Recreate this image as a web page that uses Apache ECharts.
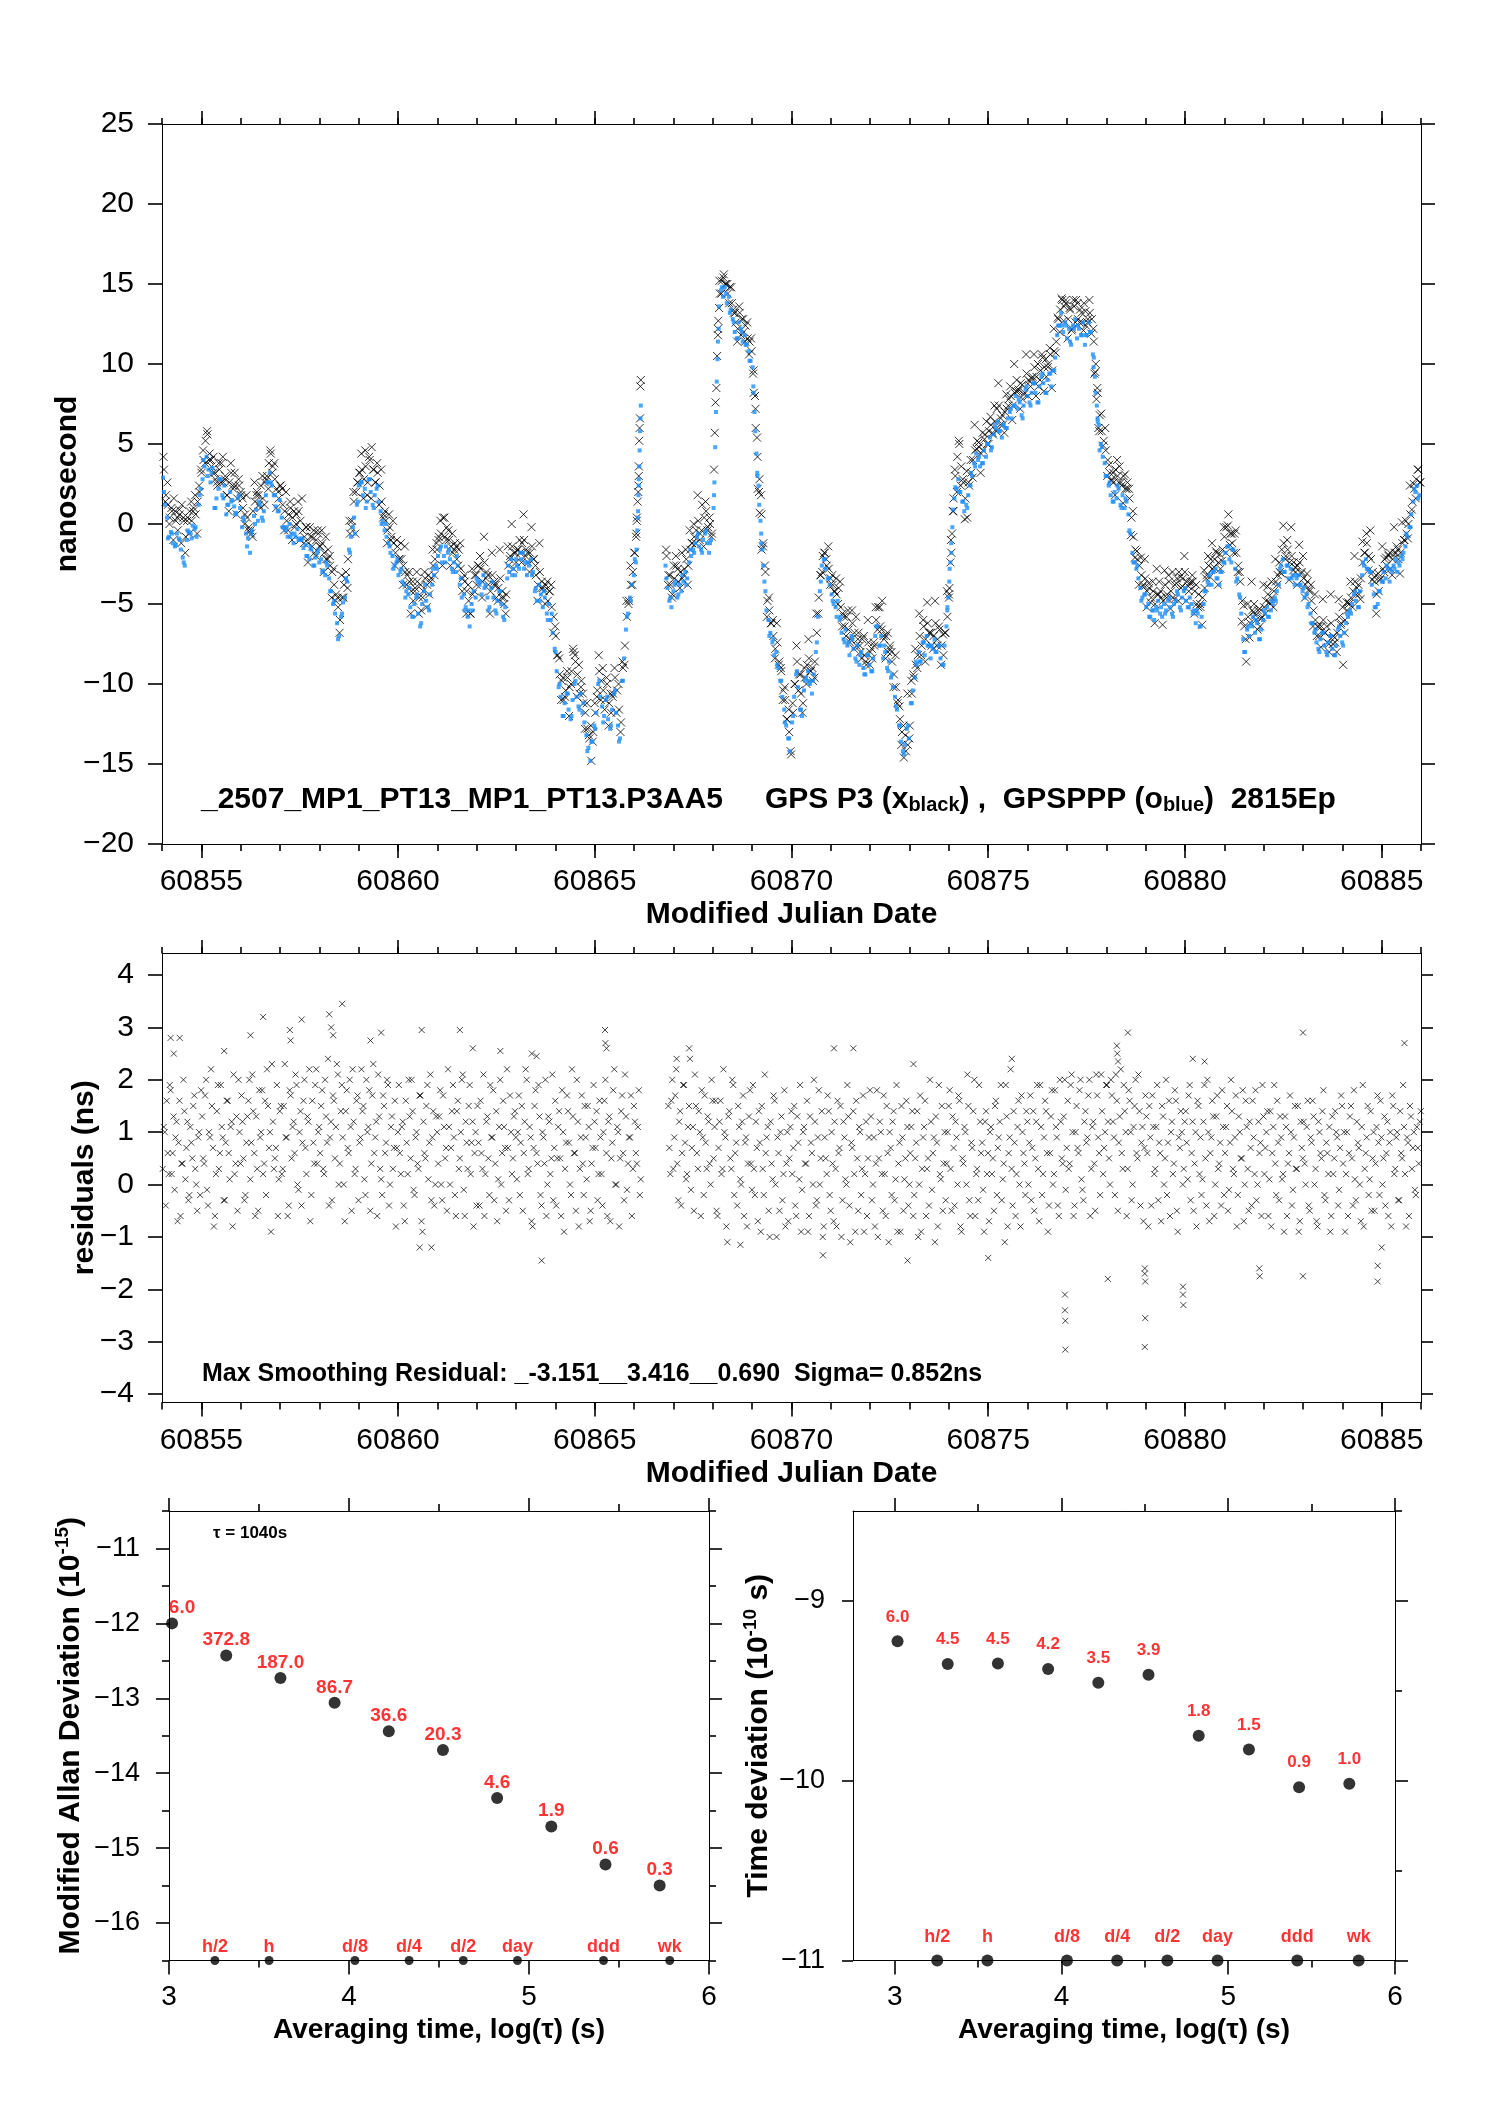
<!DOCTYPE html>
<html><head><meta charset="utf-8">
<script src="https://cdn.jsdelivr.net/npm/echarts@6/dist/echarts.min.js"></script>
<style>html,body{margin:0;padding:0;background:#fff}#c{width:1488px;height:2105px}</style>
</head><body><div id="c"></div>
<script>
// ---------------- DATA ----------------
const mjdMin = 60854, mjdMax = 60886;
const mjdMajorTicks = [60855,60860,60865,60870,60875,60880,60885];
const mjdMinorTicks = [60854,60855,60856,60857,60858,60859,60860,60861,60862,60863,60864,60865,60866,60867,60868,60869,60870,60871,60872,60873,60874,60875,60876,60877,60878,60879,60880,60881,60882,60883,60884,60885,60886];
const nsTicks = [-20,-15,-10,-5,0,5,10,15,20,25];
const resTicks = [-4,-3,-2,-1,0,1,2,3,4];

// regular epochs: start MJD and spacing (days)
const epochStep = 0.050286;
const blueStartMjd = 60854.025, blue2StartMjd = 60854.05, blue2Step = 0.100572;
const blackStartMjd = 60854.05, black2StartMjd = 60854.0375;

// GPSPPP (blue) time differences, ns (one row per day)
const blueNs = [
2.9,1.2,0.4,-0.8,-0.5,-1.2,-1.4,-0.6,-0.9,-1.6,-2.1,-2.6,-1.0,-0.5,-0.6,-0.1,-0.3,-0.8,1.2,2.2,
2.8,3.6,4.2,3.4,2.6,3.5,1.0,1.6,2.2,2.8,1.8,2.4,0.6,1.2,2.0,1.5,1.1,0.7,1.6,1.0,
-0.2,0.2,-0.6,-0.9,-1.8,-0.4,0.5,0.9,0.2,1.2,0.4,0.8,1.8,2.6,3.2,2.4,1.8,1.1,0.8,1.5,
0.4,-0.2,-0.4,-0.8,0.0,-0.6,-1.2,-0.8,-0.3,-0.9,-1.0,-1.5,-1.3,-2.0,-2.2,-1.6,-2.6,-2.1,-1.8,-2.4,
-2.2,-2.9,-3.2,-2.6,-3.4,-4.2,-5.0,-5.6,-6.2,-7.0,-5.8,-4.9,-4.6,-3.6,-1.6,-0.8,-0.2,-0.6,1.2,2.4,
2.6,1.8,2.2,1.4,2.8,2.0,1.2,1.8,2.2,1.4,0.8,0.2,-0.4,-0.8,-1.2,-1.8,-2.0,-2.6,-2.4,-3.2,
-3.0,-3.6,-3.8,-4.2,-4.4,-5.2,-5.8,-5.0,-4.6,-5.6,-6.4,-5.0,-4.2,-4.8,-5.2,-4.4,-3.8,-3.2,-2.6,-2.0,
-1.6,-2.4,-2.0,-1.4,-1.8,-2.2,-2.8,-2.4,-3.0,-2.6,-3.8,-4.6,-4.4,-5.2,-5.8,-6.4,-5.0,-4.2,-4.6,-3.6,
-3.8,-4.4,-3.2,-3.8,-4.6,-5.2,-4.0,-4.6,-5.4,-4.8,-4.2,-5.0,-5.8,-5.2,-3.4,-3.0,-2.2,-2.8,-3.2,-2.6,
-2.8,-2.2,-1.8,-2.4,-3.2,-2.6,-2.2,-3.0,-4.2,-4.8,-3.8,-4.4,-5.2,-4.6,-5.6,-5.0,-6.0,-6.8,-7.8,-9.2,
-10.2,-10.8,-12.0,-11.2,-10.6,-11.6,-12.2,-11.0,-10.0,-10.8,-11.4,-10.6,-11.8,-12.4,-13.2,-14.0,-14.8,-13.6,-12.6,-11.8,
-10.0,-10.8,-11.4,-12.0,-11.0,-12.2,-12.8,-11.6,-10.6,-11.8,-12.6,-13.4,-9.8,-8.4,-6.6,-5.6,-4.6,-3.8,-3.2,-2.4,
0.4,null,null,null,null,null,null,null,null,null,null,null,null,null,-2.6,-4.0,-4.8,-5.2,-4.2,-3.6,
-4.6,-3.8,-4.2,-3.6,-3.0,-3.4,-2.4,-2.0,-1.6,-1.2,-0.8,-1.4,-1.6,-1.0,-0.6,-1.2,-1.8,-1.0,null,null,
null,13.6,14.6,14.2,14.8,13.8,14.2,13.4,12.8,12.0,11.6,12.6,12.2,11.4,11.8,11.2,10.8,10.2,9.8,7.0,
4.4,2.4,0.2,-1.6,-3.6,-5.4,-6.0,-6.8,-7.4,-8.2,-8.0,-9.0,-9.8,-10.8,-11.6,-12.6,-13.4,-14.2,-12.4,-10.8,
-9.4,-10.2,-11.6,-12.0,-10.4,-9.6,-9.2,-10.0,-10.6,-9.4,-8.0,-5.8,-4.2,-2.6,-2.2,-2.8,-3.4,-3.8,-4.4,-5.0,
-5.2,-4.8,-6.0,-6.8,-7.2,-6.6,-7.6,-8.2,-7.0,-7.8,-8.4,-7.6,-8.8,-8.0,-9.0,-9.4,-8.2,-8.8,-9.2,-8.4,
-7.0,-6.4,-7.6,-7.0,-8.4,-8.0,-9.0,-8.6,-9.6,-10.2,-10.8,-11.6,-12.6,-13.6,-14.2,-13.8,-12.8,-13.4,-11.2,-10.4,
-9.6,-8.8,-8.0,-8.6,-7.4,-8.2,-7.0,-7.6,-8.4,-7.8,-7.2,-8.0,-7.6,-8.4,-8.8,-7.6,-6.4,-4.6,-2.4,-0.2,
1.6,2.2,2.8,2.0,1.4,0.8,1.2,1.8,2.4,3.0,3.8,4.4,4.0,3.6,3.8,4.6,4.2,5.0,5.4,4.8,
5.6,6.0,6.4,5.8,5.4,6.2,6.0,6.6,7.0,6.6,7.4,8.0,7.2,7.6,6.8,7.4,8.4,8.0,7.6,8.2,
8.8,8.2,7.6,8.6,9.2,8.8,8.2,9.0,9.4,8.6,9.6,10.4,11.8,12.4,13.2,12.0,12.6,11.6,12.2,11.2,
12.4,12.8,11.6,12.2,11.8,12.6,11.2,11.8,12.6,12.0,10.6,9.2,7.4,6.2,5.0,4.2,3.8,3.0,2.4,1.8,
1.4,2.0,1.6,2.2,1.2,1.8,1.0,1.4,0.6,-0.6,-1.8,-2.4,-2.8,-3.4,-4.0,-4.6,-4.4,-5.2,-5.0,-5.8,
-5.4,-6.0,-5.2,-4.8,-5.6,-5.8,-5.0,-5.4,-4.8,-5.2,-5.6,-5.0,-4.8,-4.4,-5.2,-4.6,-4.2,-4.8,-5.2,-4.6,
-5.0,-5.4,-6.2,-5.6,-6.4,-5.8,-5.0,-4.2,-3.6,-3.2,-3.8,-3.0,-2.8,-3.4,-3.8,-3.0,-2.4,-1.8,-1.4,-2.2,
-2.4,-1.6,-2.8,-3.4,-4.4,-5.6,-7.2,-8.0,-6.6,-7.0,-6.2,-5.8,-6.8,-6.2,-7.2,-6.6,-6.0,-5.6,-5.2,-5.8,
-5.4,-5.0,-4.6,-4.2,-3.8,-2.6,-2.2,-3.0,-2.6,-3.4,-2.8,-3.2,-3.8,-3.4,-3.2,-3.8,-4.2,-4.6,-4.4,-5.0,
-5.6,-6.2,-6.8,-7.4,-7.8,-7.2,-6.8,-7.6,-8.0,-7.4,-7.0,-7.8,-8.2,-7.6,-6.6,-7.0,-7.4,-6.8,-6.2,-5.8,
-5.4,-5.0,-4.4,-4.8,-5.2,-4.2,-3.2,-2.6,-2.2,-2.8,-3.0,-3.8,-4.4,-5.2,-5.0,-4.2,-3.6,-3.0,-3.4,-2.8,
-3.6,-3.0,-2.6,-2.2,-3.0,-2.6,-2.0,-1.8,-1.4,-0.8,-0.2,0.6,1.4,2.0,2.4,1.8
];
// further GPSPPP epochs (ten per day)
const blueNs2 = [
2.0,-0.9,-0.6,-1.3,-1.0,-2.4,-0.4,-0.9,-0.2,1.8,
4.0,3.0,3.2,1.0,2.8,1.6,1.2,1.4,0.6,1.8,
0.4,-1.4,-0.6,0.0,1.4,0.2,2.6,2.6,1.8,0.8,
-0.2,-0.2,-0.8,-0.6,-1.0,-0.9,-2.0,-1.4,-2.6,-1.6,
-3.0,-2.4,-4.2,-4.8,-7.2,-5.6,-3.4,-1.8,0.4,1.4,
2.6,1.0,2.8,1.0,2.4,0.0,0.0,-1.4,-2.8,-2.2,
-2.8,-4.6,-4.0,-5.8,-4.4,-6.2,-3.8,-5.4,-2.8,-2.8,
-1.4,-2.4,-1.6,-3.0,-2.0,-3.4,-5.4,-5.4,-5.4,-3.4,
-3.6,-4.0,-5.4,-3.6,-5.6,-4.2,-6.0,-2.6,-3.2,-2.2,
-1.8,-2.8,-2.4,-3.2,-4.0,-4.8,-4.2,-6.0,-5.6,-8.0,
-10.0,-12.0,-10.6,-12.0,-9.8,-11.6,-11.2,-14.2,-13.6,-12.8,
-9.8,-12.4,-10.8,-12.6,-10.4,-13.6,-9.8,-5.8,-4.8,-2.2,
2.4,null,null,null,null,null,null,-3.4,-4.6,-3.8,
-4.4,-3.2,-3.8,-1.6,-1.8,-0.6,-1.8,-0.4,-1.2,1.8,
11.4,14.8,14.4,13.2,12.6,11.6,12.0,11.2,10.2,8.2,
3.0,-1.2,-4.2,-7.0,-7.2,-8.8,-9.8,-12.4,-13.4,-12.0,
-9.2,-11.6,-9.8,-9.8,-9.8,-7.4,-3.6,-2.2,-3.4,-4.8,
-5.8,-5.8,-7.4,-7.4,-7.2,-8.6,-8.2,-9.4,-8.2,-9.2,
-6.4,-7.6,-7.6,-9.2,-9.4,-11.4,-12.6,-14.4,-12.6,-11.2,
-8.6,-8.6,-7.4,-7.6,-7.6,-8.0,-7.6,-8.8,-5.2,-1.8,
2.3,2.0,1.4,1.0,3.2,3.6,4.2,3.8,5.0,4.6,
6.2,5.8,6.2,6.0,7.2,7.4,7.8,6.6,8.6,7.4,
8.8,7.6,9.4,8.2,9.4,9.6,12.4,12.4,12.4,11.4,
12.2,12.4,11.8,11.8,12.0,10.4,6.4,4.8,3.0,2.6,
1.4,2.4,1.0,1.6,-0.4,-2.4,-2.6,-4.8,-4.4,-5.8,
-5.4,-5.4,-5.2,-5.6,-4.6,-5.8,-4.2,-5.4,-4.0,-5.2,
-5.6,-5.4,-6.4,-4.2,-3.8,-3.0,-3.4,-3.0,-2.4,-1.4,
-1.6,-3.6,-4.6,-8.0,-6.4,-6.4,-6.0,-7.2,-5.4,-5.8,
-4.8,-4.8,-2.8,-3.0,-2.6,-3.4,-3.2,-3.8,-4.0,-5.2,
-6.2,-6.6,-8.0,-6.8,-8.2,-7.0,-8.2,-6.4,-7.6,-5.6,
-5.6,-4.2,-5.2,-2.4,-2.8,-3.0,-5.2,-4.2,-3.6,-2.6,
-2.8,-2.8,-2.4,-2.2,-0.6,-0.2,2.2,1.6
];
// GPSPPP points on the fast ramps [MJD, ns]
const blueRampPts = [
[60866.06,-1.6],[60866.08,-0.4],[60866.10,0.8],[60866.11,1.8],[60866.12,2.8],[60866.13,3.6],[60866.14,4.6],[60866.15,5.8],[60866.16,6.6],[60866.17,7.4],
[60868.02,1.0],[60868.04,2.6],[60868.06,4.8],[60868.08,7.0],[60868.10,8.9],[60868.12,10.3],[60868.15,12.2],
[60869.03,8.6],[60869.08,5.8],[60869.13,3.2],[60869.18,1.2],[60869.23,-0.6],[60869.28,-2.6],
[60873.96,-5.4],[60874.01,-3.6],[60874.02,-2.8],[60874.06,-1.2],[60874.11,0.9],
[60877.68,9.8],[60877.73,8.2],[60877.78,6.6],[60877.83,4.6]
];
// GPS P3 (black) time differences, ns (one row per day)
const blackNs = [
3.4,1.8,1.2,0.4,0.8,1.6,0.2,-0.4,0.6,1.2,0.2,-0.8,0.4,0.8,0.2,1.0,0.6,1.4,2.0,3.2,
4.0,5.2,5.6,4.4,3.6,4.2,2.8,2.4,3.4,3.8,2.6,3.0,1.8,2.6,3.2,2.2,2.4,1.6,2.4,1.8,
1.0,0.6,0.4,-0.2,-0.6,0.8,1.4,2.0,1.2,2.4,1.6,2.6,3.0,3.8,4.4,3.6,2.8,2.2,1.6,2.4,
1.2,0.8,0.2,0.6,1.0,0.4,-0.2,0.6,0.8,0.2,-0.4,-0.8,-0.2,-1.2,-0.8,-1.4,-1.8,-1.0,-0.6,-1.4,
-1.2,-1.8,-2.2,-1.6,-2.6,-3.0,-3.8,-4.4,-5.2,-6.0,-4.6,-3.8,-3.0,-2.2,-0.6,0.2,1.4,2.0,2.6,3.2,
3.4,2.8,3.6,2.6,4.0,4.8,3.4,2.6,3.2,2.4,1.4,0.6,0.2,-0.4,-0.2,-0.8,-1.2,-1.8,-1.4,-2.2,
-2.2,-2.6,-3.0,-3.2,-3.6,-4.2,-4.8,-4.0,-3.6,-4.6,-5.4,-4.2,-3.4,-3.8,-4.4,-3.4,-2.6,-2.2,-1.6,-0.8,
-0.6,0.4,-0.8,-0.2,-1.0,-1.4,-1.8,-1.2,-2.2,-1.6,-2.8,-3.4,-3.6,-4.2,-4.8,-5.6,-4.4,-3.2,-3.8,-2.6,
-2.8,-3.6,-2.4,-3.0,-3.8,-4.2,-3.2,-3.6,-4.6,-4.0,-3.4,-4.2,-5.0,-4.4,-2.6,-2.0,-1.4,-1.8,-2.4,-1.6,
-1.8,-1.2,-1.0,-1.6,-2.4,-1.8,-1.4,-2.2,-3.2,-3.8,-3.0,-3.6,-4.2,-3.8,-4.8,-4.2,-5.2,-5.8,-7.0,-8.2,
-9.4,-9.8,-11.0,-10.4,-9.6,-10.2,-9.2,-8.0,-8.6,-9.4,-10.6,-9.8,-11.2,-11.8,-12.8,-13.4,-14.8,-13.0,-11.8,-10.4,
-9.2,-9.8,-10.4,-11.0,-10.0,-11.2,-11.8,-10.6,-9.6,-10.4,-11.6,-12.4,-9.0,-7.6,-5.8,-4.8,-3.8,-3.0,-1.8,0.2,
3.0,null,null,null,null,null,null,null,null,null,null,null,null,null,-2.0,-3.2,-3.8,-4.4,-3.4,-2.6,
-3.6,-3.0,-3.4,-2.8,-2.2,-2.6,-1.6,-1.2,-0.8,-0.4,0.2,-0.6,1.2,0.4,0.8,-0.2,0.0,-0.6,null,null,
12.2,14.4,15.2,15.6,15.0,14.4,14.8,13.8,13.2,12.6,12.2,13.2,12.8,12.0,12.4,11.6,11.4,10.8,9.6,7.2,
4.2,2.8,0.6,-1.2,-3.0,-4.8,-5.4,-6.2,-7.0,-7.8,-7.4,-8.6,-9.2,-10.4,-11.0,-12.2,-13.0,-14.4,-11.8,-10.0,
-8.6,-9.4,-10.6,-11.2,-9.6,-8.8,-8.4,-9.2,-9.8,-8.6,-6.8,-4.6,-3.2,-2.0,-1.8,-2.6,-2.8,-3.4,-3.8,-4.2,
-4.4,-4.0,-5.2,-5.6,-6.4,-5.8,-6.6,-7.2,-6.2,-6.8,-7.6,-6.8,-8.0,-7.2,-8.2,-8.8,-7.4,-8.0,-8.4,-7.6,
-6.0,-5.2,-6.4,-4.8,-7.2,-7.0,-8.0,-7.6,-8.6,-9.4,-10.2,-11.0,-12.2,-13.0,-14.6,-14.2,-13.8,-12.6,-10.6,-9.6,
-8.8,-8.2,-7.0,-7.6,-6.4,-7.2,-6.2,-6.8,-7.6,-7.0,-6.2,-7.2,-6.6,-7.6,-8.2,-6.8,-5.8,-4.0,-1.8,0.8,
3.0,4.2,5.0,3.6,2.6,1.6,0.4,2.4,3.2,4.0,4.6,5.2,4.8,4.4,4.6,5.6,5.0,5.8,6.2,5.6,
6.4,7.2,7.4,6.6,6.2,7.0,7.2,7.8,8.0,7.4,8.2,9.0,8.4,8.8,7.8,8.2,9.4,9.0,8.6,9.2,
9.8,9.2,8.6,9.6,10.4,9.8,9.2,10.0,10.6,9.6,10.8,11.4,12.8,13.4,14.0,13.6,13.8,12.8,13.4,12.2,
13.6,14.0,12.8,13.4,12.6,13.8,12.4,12.8,13.2,12.8,11.4,10.0,8.2,6.8,5.8,5.2,4.6,4.0,3.2,2.8,
2.6,3.4,3.0,3.6,2.4,3.0,2.2,2.6,1.6,0.4,-0.8,-1.6,-2.2,-2.6,-3.2,-3.8,-3.4,-4.2,-4.0,-4.6,
-4.2,-5.0,-4.4,-3.6,-4.6,-4.8,-3.8,-4.4,-3.6,-4.2,-4.6,-3.8,-3.4,-3.0,-4.0,-3.4,-3.0,-3.6,-4.2,-3.6,
-3.6,-4.2,-5.0,-4.4,-5.2,-4.6,-4.0,-3.2,-2.6,-2.2,-2.8,-2.2,-1.8,-2.4,-2.8,-1.6,-0.8,-0.2,0.6,-0.6,
-1.2,-0.6,-1.8,-2.6,-3.6,-4.8,-6.4,-8.6,-5.8,-6.2,-5.4,-5.0,-6.0,-5.4,-6.4,-5.8,-5.2,-4.8,-4.4,-5.0,
-4.6,-4.2,-3.6,-3.2,-3.0,-1.6,-1.2,-2.0,-1.6,-2.4,-2.0,-2.4,-3.0,-2.6,-2.4,-3.0,-3.4,-3.8,-3.6,-4.2,
-4.8,-5.4,-6.0,-6.4,-7.0,-6.4,-6.0,-6.8,-7.4,-8.0,-6.2,-7.0,-7.4,-6.8,-5.8,-6.2,-8.8,-6.0,-5.4,-5.0,
-4.6,-4.2,-3.6,-4.0,-4.4,-3.4,-2.4,-1.8,-1.2,-2.0,-2.2,-3.0,-3.6,-4.4,-4.2,-3.4,-2.8,-2.2,-2.6,-2.0,
-2.8,-2.2,-1.8,-1.4,-2.2,-1.8,-1.2,-1.0,-0.6,0.0,0.6,1.4,2.2,2.8,3.4,2.6
];
// further GPS P3 epochs (twenty per day)
const blackNs2 = [
4.2,1.4,2.6,0.0,1.0,-1.0,0.8,0.4,0.9,-1.2,0.4,-1.8,0.2,-0.6,1.4,0.8,1.8,-0.6,2.4,3.4,
4.6,3.8,5.8,4.0,4.0,3.2,3.2,2.6,3.8,2.6,4.2,2.8,1.8,0.8,3.8,2.4,3.2,0.6,2.8,2.0,
1.6,0.0,1.8,-0.4,-0.4,-0.8,2.6,1.8,1.8,1.0,3.0,1.2,2.8,2.2,4.6,3.2,3.8,1.0,2.0,2.4,
2.2,-0.4,2.0,-0.4,1.4,-1.0,0.8,0.0,1.4,-1.0,1.6,-1.2,-0.2,-2.4,-0.2,-0.8,-0.4,-2.0,-0.4,-1.4,
-0.4,-3.0,-0.8,-2.2,-2.0,-4.6,-2.8,-4.8,-4.6,-6.8,-3.2,-4.6,-3.4,-4.0,0.2,-0.2,2.0,-0.6,2.6,3.2,
4.4,1.6,4.6,1.8,4.2,1.6,3.4,2.6,3.8,1.2,3.4,0.4,0.8,-1.2,0.6,-1.0,0.2,-2.6,-1.0,-2.2,
-1.2,-3.8,-1.4,-3.8,-3.0,-5.6,-3.6,-4.2,-3.0,-5.6,-3.8,-4.6,-3.0,-5.2,-3.2,-3.6,-1.6,-3.2,-1.2,-1.0,
0.2,-2.6,0.4,-1.0,-0.4,-2.6,-0.6,-1.6,-1.4,-2.6,-1.2,-4.2,-3.2,-5.6,-3.8,-5.6,-2.8,-4.2,-3.2,-2.6,
-2.0,-4.6,-0.8,-3.4,-3.2,-5.6,-1.8,-3.8,-3.8,-4.8,-1.6,-4.6,-4.6,-5.6,-1.4,-2.2,0.0,-2.8,-1.8,-1.6,
-1.0,-2.4,0.6,-2.0,-1.8,-3.0,-0.2,-2.2,-2.6,-4.8,-1.2,-4.0,-4.0,-5.0,-3.6,-4.2,-3.8,-6.8,-6.4,-8.2,
-8.4,-11.0,-9.6,-10.8,-9.2,-12.0,-10.0,-7.8,-8.2,-10.8,-8.8,-10.2,-10.6,-12.8,-11.2,-13.2,-12.6,-13.6,-11.2,-10.8,
-8.2,-11.0,-9.0,-11.6,-9.6,-12.6,-10.6,-10.8,-9.0,-11.8,-10.0,-13.0,-8.6,-8.8,-4.8,-5.0,-2.6,-3.8,-1.8,-0.6,
2.0,null,null,null,null,null,null,null,null,null,null,null,null,null,-1.6,-3.8,-3.2,-4.6,-2.6,-2.0,
-2.8,-4.0,-1.8,-3.2,-1.6,-3.8,-0.4,-1.2,0.0,-1.2,1.8,-1.0,-0.4,-1.4,1.4,-0.4,0.4,-0.8,null,null,
null,15.2,14.4,15.4,15.0,15.0,13.8,14.8,13.4,13.2,11.4,13.6,11.8,12.8,11.4,12.6,10.6,11.6,9.4,8.0,
5.4,2.0,1.8,-1.4,-2.6,-5.8,-4.6,-6.2,-6.0,-8.4,-6.2,-8.8,-9.0,-11.0,-10.2,-12.2,-11.6,-14.2,-11.2,-10.0,
-7.6,-10.4,-9.4,-11.8,-9.0,-10.0,-7.2,-9.2,-9.0,-9.6,-5.6,-5.6,-3.2,-3.0,-1.8,-2.2,-1.4,-3.8,-3.2,-4.2,
-3.4,-5.0,-3.6,-6.4,-5.8,-7.0,-5.4,-7.4,-5.4,-7.8,-5.8,-7.2,-7.6,-8.4,-7.0,-8.6,-6.0,-8.8,-7.8,-7.4,
-5.2,-6.6,-5.2,-6.6,-7.0,-8.4,-6.8,-7.8,-8.0,-10.2,-8.2,-11.2,-11.4,-13.8,-12.6,-13.2,-10.6,-13.4,-9.8,-9.4,
-7.8,-9.0,-5.6,-8.2,-6.0,-8.6,-4.9,-6.8,-6.8,-7.8,-4.8,-7.6,-6.4,-8.8,-6.9,-6.8,-4.2,-4.6,-1.0,0.8,
3.4,2.0,5.2,2.4,2.8,0.3,3.3,2.6,4.0,2.9,6.2,4.7,5.1,3.2,5.7,5.3,6.4,5.0,6.7,5.7,
7.4,5.8,8.8,6.2,6.8,5.7,8.1,7.4,8.6,6.5,10.0,8.3,8.3,7.2,8.7,8.1,10.6,8.0,8.9,9.1,
10.6,8.0,10.0,9.0,10.6,8.3,10.3,9.8,11.0,8.5,12.2,10.7,12.9,12.0,14.1,12.7,14.0,11.6,13.5,12.1,
14.0,12.6,13.8,12.6,13.2,12.1,13.3,12.6,14.0,11.9,12.2,9.5,8.5,5.8,6.9,4.9,6.0,3.0,3.7,2.7,
3.2,1.8,4.0,2.6,2.6,1.3,3.1,2.2,2.2,-0.7,0.8,-2.1,-1.7,-3.8,-2.1,-3.9,-2.2,-5.2,-3.7,-4.9,
-3.6,-6.2,-2.8,-4.4,-4.2,-6.3,-2.9,-4.6,-3.2,-5.3,-3.0,-4.7,-3.7,-4.8,-3.3,-3.9,-2.0,-4.8,-3.9,-3.7,
-3.2,-5.6,-3.8,-5.2,-5.0,-6.3,-2.9,-3.4,-2.0,-3.3,-1.2,-2.7,-1.7,-3.8,-1.9,-2.3,-0.2,-1.8,-0.1,-1.3,
-0.6,-1.8,-0.4,-3.0,-3.0,-6.1,-5.1,-7.2,-5.0,-7.1,-3.6,-5.5,-5.7,-6.6,-5.3,-5.9,-3.8,-5.6,-3.9,-4.9,
-3.6,-5.2,-2.2,-3.8,-2.4,-3.1,-0.1,-2.2,-1.0,-3.5,-0.2,-2.9,-2.7,-3.8,-1.3,-3.1,-2.0,-4.6,-3.1,-4.1,
-3.8,-6.4,-4.4,-7.0,-6.4,-7.7,-4.7,-6.8,-6.4,-7.5,-4.4,-7.5,-7.1,-8.0,-4.7,-6.3,-5.2,-6.8,-4.9,-4.9,
-3.6,-5.2,-2.0,-4.4,-3.8,-4.7,-1.1,-1.8,-0.6,-2.9,-0.4,-3.5,-3.3,-5.6,-3.1,-3.5,-1.4,-3.0,-2.1,-1.9,
-1.8,-3.2,-0.2,-1.8,-1.6,-3.1,0.1,-1.0,0.2,-0.9,2.4,0.9,2.5,1.6,3.4,2.6
];
const blackRampPts = [
[60866.05,-0.8],[60866.07,0.4],[60866.09,1.4],[60866.11,2.4],[60866.12,3.6],[60866.13,5.2],[60866.14,6.0],[60866.15,6.6],[60866.16,8.6],[60866.17,9.0],
[60868.03,3.4],[60868.05,5.7],[60868.07,7.6],[60868.09,8.5],[60868.11,10.5],[60868.13,11.8],[60868.14,12.7],[60868.16,13.5],
[60869.04,8.2],[60869.09,6.0],[60869.14,2.2],[60869.19,0.7],[60869.24,-1.6],
[60874.00,-4.4],[60874.04,-2.4],[60874.08,-0.6],[60874.12,1.6],
[60877.70,9.4],[60877.75,7.8],[60877.80,6.0]
];

// residuals (ns), one row per day
const resStartMjd = 60854.02, res2StartMjd = 60854.045, resStep = 0.05;
const residNs = [
0.3,1.0,1.6,0.2,1.8,0.6,-0.1,1.2,0.8,-0.6,0.4,1.4,0.7,-0.3,1.1,0.5,1.7,0.0,0.9,-0.2,
1.3,0.4,2.0,-0.4,0.9,1.5,-0.8,0.2,1.9,0.6,1.1,-0.3,0.8,1.6,0.1,1.2,2.1,0.4,-0.5,1.0,
1.7,0.5,-0.2,1.3,2.0,0.8,1.4,-0.6,0.3,1.8,1.0,0.2,1.6,2.2,0.7,-0.9,1.2,0.5,1.9,0.1,
1.5,0.3,2.3,0.9,-0.4,1.7,1.1,0.6,1.9,-0.1,1.4,0.8,2.0,0.2,1.2,-0.7,1.6,0.4,2.2,1.0,
0.6,1.8,0.2,1.3,2.4,0.9,-0.3,1.6,1.1,2.1,0.4,1.9,0.0,1.4,0.7,2.0,-0.5,1.2,0.3,1.7,
0.8,2.2,1.5,-0.2,1.0,1.8,0.4,2.3,0.9,-0.6,1.3,0.1,1.7,0.6,2.0,-0.4,1.1,0.3,1.6,0.7,
1.9,0.2,1.2,-0.7,0.8,2.0,0.5,1.4,-0.2,1.0,0.3,1.7,-0.9,0.6,1.5,0.1,2.1,0.9,-0.4,1.3,
0.4,1.8,-0.3,1.1,0.7,2.2,0.0,1.4,0.9,-0.6,1.6,0.5,2.0,-0.1,1.2,0.3,1.9,0.8,-0.8,1.0,
1.5,-0.4,0.6,2.1,0.2,1.3,-0.2,0.9,1.8,0.4,-0.7,1.1,0.0,1.6,0.7,2.2,-0.3,1.0,0.5,1.4,
0.1,1.7,0.8,-0.5,1.2,2.0,0.3,0.9,-0.8,1.5,0.6,1.9,-0.2,1.0,0.4,-0.6,1.3,0.2,2.1,0.7,
-0.4,1.1,0.5,1.8,-0.9,0.8,1.4,0.0,2.2,0.6,-0.5,1.2,0.3,1.7,-0.2,0.9,1.5,-0.7,0.4,1.9,
0.7,-0.3,1.6,0.2,1.0,2.0,-0.6,1.3,0.5,1.8,0.0,1.1,-0.8,1.4,0.6,2.1,-0.1,0.9,1.7,0.3,
1.2,0.4,1.8,0.1,null,null,null,null,null,null,null,null,null,null,null,null,null,1.5,0.2,2.0,
0.9,2.2,-0.3,1.4,0.6,1.9,0.1,1.1,2.4,0.7,-0.5,1.5,0.3,1.0,1.8,-0.2,0.8,1.3,0.4,2.0,
0.5,1.6,-0.6,1.2,0.2,2.2,0.9,-1.1,1.4,0.3,1.9,0.6,-0.4,1.1,0.0,1.7,0.8,-0.8,1.3,0.4,
1.9,-0.2,0.7,1.4,-0.9,0.3,2.1,0.9,-0.5,1.2,0.1,1.6,-1.0,0.6,1.0,-0.3,1.8,0.4,-0.7,1.1,
0.2,1.5,-0.6,0.8,1.9,-0.1,1.1,0.4,-0.9,1.3,0.6,2.0,-0.4,0.9,0.0,1.4,-0.8,0.5,1.7,-0.2,
1.0,-0.7,0.3,1.6,0.7,-1.0,1.2,0.1,1.9,-0.4,0.8,1.4,-0.9,0.5,1.1,-0.2,1.7,0.2,-0.6,0.9,
1.3,0.0,-0.8,1.8,0.5,1.0,-0.5,0.2,1.5,-1.1,0.7,1.2,-0.3,1.9,0.4,-0.9,0.9,0.1,1.6,-0.4,
0.6,1.4,-0.2,0.8,-1.0,1.7,0.3,1.1,-0.6,0.5,2.0,-0.1,0.9,1.3,-0.8,0.2,1.5,0.4,-0.3,1.0,
1.8,-0.5,0.7,1.2,0.0,1.6,-0.9,0.4,1.0,2.1,-0.3,0.8,1.4,-0.6,0.3,1.9,0.6,-0.1,1.2,0.2,
-0.7,1.1,0.5,1.5,-0.2,0.9,1.9,0.1,-1.1,1.3,0.6,2.2,-0.4,0.8,0.2,1.6,-0.8,1.0,0.4,1.4,
0.0,1.7,0.7,-0.5,1.2,0.3,1.9,-0.2,0.9,1.4,-0.9,0.6,1.8,0.2,1.1,-0.4,2.0,0.5,1.3,-0.1,
1.6,0.4,2.1,-0.6,1.0,0.7,1.8,0.1,-0.3,1.4,0.9,2.0,0.3,1.2,-0.5,1.7,0.6,2.1,0.2,1.0,
1.9,0.5,2.0,1.2,-0.2,1.6,0.8,2.2,0.3,1.4,-0.6,1.8,1.0,0.0,1.5,0.6,2.1,-0.4,1.1,0.7,
1.3,-0.8,0.9,1.7,0.2,1.1,-0.3,0.6,1.5,0.0,2.0,0.8,-0.6,1.2,0.4,1.6,-0.9,0.7,1.0,0.3,
1.4,0.1,1.9,0.6,-0.5,1.0,1.6,0.2,-0.2,1.2,0.5,2.0,-0.7,0.9,1.3,0.0,1.7,0.4,-0.4,1.1,
0.6,1.5,-0.1,2.0,0.3,0.9,-0.8,1.3,0.5,1.8,0.0,1.1,-0.5,0.7,1.6,0.2,-0.3,1.2,0.8,1.9,
0.2,1.0,-0.6,1.4,0.6,1.9,-0.2,0.8,1.3,0.1,-0.9,1.1,0.4,1.7,-0.4,0.9,0.3,1.5,-0.7,0.7,
1.2,0.0,1.6,-0.5,0.8,1.3,0.3,-0.8,1.0,0.5,1.8,-0.3,0.6,1.1,-0.6,0.2,1.4,0.9,-0.1,1.7,
0.4,-0.9,1.0,0.6,1.5,-0.4,0.1,1.2,0.7,-0.7,1.9,0.3,0.9,-0.2,1.4,0.5,-0.5,1.1,0.8,1.6,
0.0,1.3,0.6,-0.6,1.0,1.7,0.2,0.9,-0.3,1.4,0.5,1.1,-0.8,0.8,1.5,0.3,1.0,-0.2,0.7,1.2
];
const residNs2 = [
1.1,-0.4,0.6,1.9,0.2,1.3,0.9,-0.7,1.6,0.4,2.0,0.1,1.2,-0.2,0.8,1.5,0.3,-0.5,1.0,1.8,
0.5,1.7,-0.1,1.0,2.2,0.7,-0.6,1.4,0.3,1.9,0.9,-0.3,1.6,0.6,1.1,-0.8,0.2,1.3,2.0,0.4,
1.2,-0.3,0.8,1.6,0.1,2.1,0.6,1.3,-0.5,0.9,1.8,0.4,-0.2,1.5,1.0,2.3,0.3,0.7,-0.6,1.4,
0.2,1.5,0.9,-0.6,1.8,0.5,1.2,2.1,0.0,1.0,-0.4,1.6,0.7,1.3,2.2,-0.2,0.8,1.9,0.4,1.1,
1.5,0.3,2.0,0.8,-0.4,1.2,1.7,0.5,2.3,0.0,1.4,0.9,-0.7,1.8,0.6,1.1,2.2,0.2,1.6,-0.3,
0.9,1.4,0.1,2.0,1.1,-0.5,1.7,0.6,1.2,2.1,0.3,-0.2,1.5,0.8,1.9,0.0,1.3,0.7,-0.8,1.0,
0.6,1.1,-0.4,1.6,0.2,1.3,2.0,-0.1,0.9,0.4,1.7,-0.7,1.2,0.5,1.9,0.8,-0.3,1.4,0.0,1.0,
1.3,0.0,1.7,0.5,-0.5,1.1,0.7,1.9,-0.2,1.4,0.3,1.0,2.1,-0.6,0.8,1.5,0.2,1.2,0.6,-0.4,
0.8,1.6,0.3,-0.6,1.2,0.5,1.9,0.9,-0.3,1.4,0.1,2.0,0.6,1.1,-0.5,0.7,1.7,0.2,1.3,0.9,
1.0,-0.2,1.5,0.6,2.2,0.2,1.1,-0.7,0.7,1.8,0.4,1.3,-0.4,0.9,2.0,0.0,1.2,0.5,-0.3,1.6,
0.5,1.4,-0.6,1.0,0.3,1.7,0.8,-0.2,1.3,0.6,2.0,-0.8,0.9,0.4,1.5,0.1,1.1,-0.5,0.7,1.2,
1.4,0.2,0.9,-0.4,1.6,0.6,1.2,-0.7,0.8,2.2,0.0,1.0,0.5,1.7,-0.3,1.3,0.4,0.9,-0.6,1.5,
0.6,1.1,-0.2,null,null,null,null,null,null,null,null,null,null,null,null,null,null,0.7,1.6,0.3,
1.7,0.4,1.2,-0.4,1.9,0.8,0.2,1.5,-0.1,1.1,2.1,0.6,1.4,-0.6,0.9,1.7,0.3,1.2,0.0,1.6,
1.1,-0.5,0.7,1.6,0.3,1.0,-0.8,1.3,0.5,2.0,-0.2,0.8,1.5,0.1,1.2,-0.6,0.9,0.4,1.8,-0.1,
0.3,1.2,-0.7,0.8,1.5,-0.2,0.6,1.1,-1.0,0.4,1.7,0.0,0.9,-0.5,1.3,0.2,-0.8,1.0,0.5,1.4,
0.7,-0.4,1.3,0.1,-0.9,1.0,0.4,1.6,-0.6,0.8,0.0,1.2,-0.3,1.8,0.5,-1.0,0.9,0.2,1.4,-0.5,
0.4,1.2,-0.8,0.6,1.5,-0.3,0.9,0.0,1.3,-1.1,0.7,0.2,1.6,-0.5,1.0,0.3,-0.9,1.2,0.5,1.8,
-0.3,0.9,0.4,-1.0,1.2,0.2,1.7,-0.6,0.6,1.0,-0.2,1.4,0.1,-0.9,0.8,1.5,-0.5,0.5,1.1,0.0,
1.1,-0.6,0.5,1.4,0.0,-0.9,0.9,1.6,0.3,-0.4,1.2,0.6,-1.1,0.8,1.9,0.1,-0.5,1.0,0.4,1.5,
0.3,1.3,-0.4,0.9,1.7,-0.8,0.5,1.1,0.0,1.5,-0.6,0.7,2.0,0.2,-0.3,1.2,0.8,-0.9,1.4,0.6,
1.0,0.2,-0.5,1.6,0.7,1.2,-0.3,0.4,1.9,-0.8,0.9,0.3,1.4,-0.6,1.1,0.0,1.7,0.6,-0.2,1.2,
0.8,-0.3,1.4,0.5,1.9,-0.7,1.1,0.2,1.6,0.6,-0.4,1.3,0.0,1.8,0.9,-0.6,1.2,0.4,2.0,0.7,
0.3,1.9,1.0,-0.4,1.5,0.6,2.0,-0.1,1.2,0.8,1.7,-0.6,1.1,0.4,2.1,0.9,-0.2,1.4,0.7,1.9,
1.2,0.0,1.7,0.9,2.1,-0.5,1.3,0.6,1.9,1.0,0.3,1.6,-0.3,1.1,2.0,0.5,1.4,0.8,-0.7,1.7,
0.6,1.5,-0.4,1.1,0.3,1.9,0.8,-0.7,1.3,0.5,-0.2,1.6,1.0,0.2,1.8,-0.5,0.9,1.4,0.0,1.2,
0.8,1.7,-0.3,1.2,0.4,-0.8,1.5,0.9,0.1,1.9,-0.4,1.0,0.6,1.6,-0.6,1.3,0.3,0.8,1.8,-0.2,
1.1,-0.5,0.8,1.4,0.2,1.7,-0.2,1.0,0.5,-0.7,1.6,0.3,1.2,-0.4,0.9,1.8,0.0,0.6,-0.6,1.3,
0.7,1.4,0.1,-0.8,1.1,0.4,1.6,-0.3,0.9,0.2,1.3,-0.6,0.6,1.0,-0.1,1.5,0.3,-0.9,1.2,0.5,
0.4,1.1,-0.4,0.9,1.6,0.0,-0.7,1.2,0.6,1.4,-0.2,0.8,0.2,-0.9,1.3,0.5,1.0,-0.4,0.7,1.5,
1.0,0.2,-0.6,1.3,0.5,1.8,-0.3,0.8,0.0,1.1,-0.8,0.6,1.5,0.1,-0.5,1.0,0.4,1.7,-0.2,0.9,
0.5,-0.4,1.2,0.8,-0.8,1.5,0.3,1.0,-0.3,0.6,1.9,0.2,0.9,-0.6,1.3,0.7,-0.1,1.1,0.4,1.4
];
const residOutliers = [
[60854.22,2.8],[60854.45,2.8],[60854.30,2.5],[60855.58,2.55],[60856.25,2.85],[60856.57,3.2],[60857.25,2.95],[60857.27,2.75],
[60857.55,3.15],[60858.25,3.25],[60858.30,3.0],[60858.35,2.85],[60858.58,3.45],[60859.30,2.75],[60859.57,2.9],[60860.60,2.95],
[60861.57,2.95],[60861.90,2.6],[60862.60,2.55],[60863.40,2.5],[60863.52,2.45],[60865.26,2.95],[60865.27,2.7],[60865.30,2.6],
[60867.08,2.4],[60867.40,2.6],[60871.08,2.6],[60871.57,2.6],[60873.10,2.3],[60875.60,2.4],[60878.55,2.9],[60878.27,2.65],
[60878.28,2.5],[60878.30,2.35],[60880.20,2.4],[60880.50,2.35],[60883.00,2.9],[60885.58,2.7],
[60876.95,-2.1],[60876.95,-2.4],[60876.96,-2.6],[60876.96,-3.15],[60878.04,-1.8],[60878.98,-1.6],[60878.98,-1.7],[60878.99,-1.85],
[60878.99,-2.55],[60878.98,-3.1],[60879.95,-1.95],[60879.95,-2.1],[60879.96,-2.3],[60881.89,-1.6],[60881.90,-1.75],[60883.00,-1.75],
[60884.90,-1.55],[60884.90,-1.85],[60885.00,-1.2],[60863.65,-1.45],[60860.55,-1.2],[60860.85,-1.2],[60870.80,-1.35],[60872.95,-1.45],
[60875.00,-1.4],[60868.70,-1.15]
];

// stability plots
const logTau = [3.017,3.318,3.619,3.920,4.221,4.522,4.823,5.124,5.425,5.726];
const logModAdev = [-12.0,-12.43,-12.73,-13.06,-13.44,-13.69,-14.33,-14.71,-15.22,-15.50];
const adevLabels = ['6.0','372.8','187.0','86.7','36.6','20.3','4.6','1.9','0.6','0.3'];
const logTdev = [-9.225,-9.351,-9.348,-9.379,-9.455,-9.411,-9.750,-9.827,-10.036,-10.017];
const tdevLabels = ['6.0','4.5','4.5','4.2','3.5','3.9','1.8','1.5','0.9','1.0'];
const markLogTau = [3.255,3.556,4.033,4.334,4.635,4.936,5.414,5.782];
const markNames = ['h/2','h','d/8','d/4','d/2','day','ddd','wk'];
const logTauLabels = [3,4,5,6];
const logTauMinor = [3.5,4.5,5.5];
const adevMajor = [-16,-15,-14,-13,-12,-11];
const adevMinor = [-16.5,-15.5,-14.5,-13.5,-12.5,-11.5,-10.5];
const tdevMajor = [-11,-10,-9];
const tdevMinor = [-10.5,-9.5,-8.5];

// ---------------- CHART ----------------
const FONT = '"Liberation Sans", Arial, Helvetica, sans-serif';
const X_PATH = 'path://M0,0L10,10M0,10L10,0';
const fmtMinus = v => String(v).replace('-', '\u2212');

function ax(gridIndex, position, min, max, o) {
  o = o || {};
  const a = {
    type: 'value', gridIndex, position, min, max,
    axisLine: {show: !!o.line, onZero: false, lineStyle: {color: '#000', width: 1}},
    axisTick: o.ticks ? {show: true, customValues: o.ticks, length: o.len, inside: false, lineStyle: {color: '#000', width: 1.6}} : {show: false},
    axisLabel: o.labels ? {show: true, customValues: o.labels, margin: o.margin, fontSize: o.fs, color: '#000', fontFamily: FONT, formatter: fmtMinus} : {show: false},
    splitLine: {show: false},
    splitArea: {show: false},
    nameMoveOverlap: false
  };
  if (o.name) {
    a.name = o.name; a.nameLocation = 'middle'; a.nameGap = o.nameGap;
    a.nameTextStyle = Object.assign({fontSize: 30, fontWeight: 'bold', color: '#000', fontFamily: FONT}, o.nameStyle || {});
  }
  return a;
}

function seriesPairs(start, step, vals) {
  const out = [];
  vals.forEach((v, i) => { if (v !== null) out.push([start + i * step, v]); });
  return out;
}

const blueData = seriesPairs(blueStartMjd, epochStep, blueNs)
  .concat(seriesPairs(blue2StartMjd, blue2Step, blueNs2), blueRampPts);
const blackData = seriesPairs(blackStartMjd, epochStep, blackNs)
  .concat(seriesPairs(black2StartMjd, epochStep, blackNs2), blackRampPts);
const residData = seriesPairs(resStartMjd, resStep, residNs)
  .concat(seriesPairs(res2StartMjd, resStep, residNs2), residOutliers);

const grids = [
  {left: 162, right: 67, top: 124, height: 720},
  {left: 162, right: 67, top: 953, height: 449.5},
  {left: 169, width: 540, top: 1511, height: 449.5},
  {left: 853, width: 542, top: 1511, height: 449.5}
].map(g => Object.assign({containLabel: false, outerBoundsMode: 'none', show: false}, g));

const xAxis = [
  ax(0, 'bottom', mjdMin, mjdMax, {line: true, ticks: mjdMajorTicks, len: 14, labels: mjdMajorTicks, margin: 23, fs: 30, name: 'Modified Julian Date', nameGap: 56}),
  ax(0, 'bottom', mjdMin, mjdMax, {ticks: mjdMinorTicks, len: 7}),
  ax(0, 'top', mjdMin, mjdMax, {line: true, ticks: mjdMajorTicks, len: 13}),
  ax(0, 'top', mjdMin, mjdMax, {ticks: mjdMinorTicks, len: 6}),
  ax(1, 'bottom', mjdMin, mjdMax, {line: true, ticks: mjdMajorTicks, len: 14, labels: mjdMajorTicks, margin: 23, fs: 30, name: 'Modified Julian Date', nameGap: 56}),
  ax(1, 'bottom', mjdMin, mjdMax, {ticks: mjdMinorTicks, len: 7}),
  ax(1, 'top', mjdMin, mjdMax, {line: true, ticks: mjdMajorTicks, len: 13}),
  ax(1, 'top', mjdMin, mjdMax, {ticks: mjdMinorTicks, len: 6}),
  ax(2, 'bottom', 3, 6, {line: true, ticks: logTauLabels, len: 14, labels: logTauLabels, margin: 23, fs: 28, name: 'Averaging time, log(\u03c4) (s)', nameGap: 56, nameStyle: {fontSize: 28}}),
  ax(2, 'bottom', 3, 6, {ticks: logTauMinor, len: 7}),
  ax(2, 'top', 3, 6, {line: true, ticks: logTauLabels, len: 13}),
  ax(2, 'top', 3, 6, {ticks: logTauMinor, len: 7}),
  ax(3, 'bottom', 2.75, 6, {line: true, ticks: logTauLabels, len: 14, labels: logTauLabels, margin: 23, fs: 28, name: 'Averaging time, log(\u03c4) (s)', nameGap: 56, nameStyle: {fontSize: 28}}),
  ax(3, 'bottom', 2.75, 6, {ticks: logTauMinor, len: 7}),
  ax(3, 'top', 2.75, 6, {line: true, ticks: logTauLabels, len: 13}),
  ax(3, 'top', 2.75, 6, {ticks: logTauMinor, len: 7})
];

const supRich = {sup: {fontSize: 19, fontWeight: 'bold', verticalAlign: 'top', lineHeight: 19, color: '#000', fontFamily: FONT}};
const yAxis = [
  ax(0, 'left', -20, 25, {line: true, ticks: nsTicks, len: 14, labels: nsTicks, margin: 28, fs: 30, name: 'nanosecond', nameGap: 79}),
  ax(0, 'right', -20, 25, {line: true, ticks: nsTicks, len: 14}),
  ax(1, 'left', -4.16, 4.42, {line: true, ticks: resTicks, len: 14, labels: resTicks, margin: 28, fs: 30, name: 'residuals (ns)', nameGap: 62}),
  ax(1, 'right', -4.16, 4.42, {line: true, ticks: resTicks, len: 12}),
  ax(2, 'left', -16.5, -10.5, {line: true, ticks: adevMajor, len: 13, labels: adevMajor, margin: 29, fs: 27,
     name: 'Modified Allan Deviation (10{sup|-15})', nameGap: 80, nameStyle: {lineHeight: 36, rich: supRich}}),
  ax(2, 'left', -16.5, -10.5, {ticks: adevMinor, len: 7}),
  ax(2, 'right', -16.5, -10.5, {line: true, ticks: adevMajor, len: 13}),
  ax(2, 'right', -16.5, -10.5, {ticks: adevMinor, len: 7}),
  ax(3, 'left', -11, -8.5, {line: true, ticks: tdevMajor, len: 11, labels: tdevMajor, margin: 28, fs: 27,
     name: 'Time deviation (10{sup|-10} s)', nameGap: 76, nameStyle: {lineHeight: 36, rich: supRich}}),
  ax(3, 'right', -11, -8.5, {line: true, ticks: tdevMajor, len: 13}),
  ax(3, 'right', -11, -8.5, {ticks: tdevMinor, len: 7})
];

const redLabel = {color: '#ff0000', fontWeight: 'bold', fontFamily: FONT};

const series = [
  {type: 'scatter', xAxisIndex: 0, yAxisIndex: 0, data: blackData, symbol: X_PATH, symbolSize: 8,
   itemStyle: {color: '#000', borderColor: '#000', borderWidth: 1}, silent: true},
  {type: 'scatter', xAxisIndex: 0, yAxisIndex: 0, data: blueData, symbol: 'rect', symbolSize: 4,
   itemStyle: {color: '#1e90ff'}, silent: true},
  {type: 'scatter', xAxisIndex: 4, yAxisIndex: 2, data: residData, symbol: X_PATH, symbolSize: 6,
   itemStyle: {color: '#000', borderColor: '#000', borderWidth: 0.9}, silent: true},
  {type: 'scatter', xAxisIndex: 8, yAxisIndex: 4, symbol: 'circle', symbolSize: 12, itemStyle: {color: '#000'}, silent: true,
   data: logTau.map((t, i) => ({value: [t, logModAdev[i]], label: i === 0 ? {offset: [10, 0]} : undefined})),
   label: Object.assign({show: true, position: 'top', distance: 0, fontSize: 19, formatter: p => adevLabels[p.dataIndex]}, redLabel)},
  {type: 'scatter', xAxisIndex: 8, yAxisIndex: 4, symbol: 'circle', symbolSize: 9, itemStyle: {color: '#000'}, silent: true, clip: true,
   data: markLogTau.map(t => [t, -16.5]),
   label: Object.assign({show: true, position: 'top', distance: 0, fontSize: 18, formatter: p => markNames[p.dataIndex]}, redLabel)},
  {type: 'scatter', xAxisIndex: 12, yAxisIndex: 8, symbol: 'circle', symbolSize: 12, itemStyle: {color: '#000'}, silent: true,
   data: logTau.map((t, i) => [t, logTdev[i]]),
   label: Object.assign({show: true, position: 'top', distance: 10, fontSize: 17, formatter: p => tdevLabels[p.dataIndex]}, redLabel)},
  {type: 'scatter', xAxisIndex: 12, yAxisIndex: 8, symbol: 'circle', symbolSize: 12, itemStyle: {color: '#000'}, silent: true, clip: true,
   data: markLogTau.map(t => [t, -11]),
   label: Object.assign({show: true, position: 'top', distance: 8, fontSize: 18, formatter: p => markNames[p.dataIndex]}, redLabel)}
];

function txt(x, y, text, font, rich) {
  const s = {text, font, fill: '#000', textAlign: 'left', align: 'left', textVerticalAlign: 'middle', verticalAlign: 'middle'};
  if (rich) s.rich = rich;
  return {type: 'text', x, y, silent: true, style: s};
}

const graphic = [
  txt(201, 800, '_2507_MP1_PT13_MP1_PT13.P3AA5', 'bold 30px ' + FONT),
  txt(765, 800, 'GPS P3 (x{sub|black}) ,  GPSPPP (o{sub|blue})  2815Ep', 'bold 30px ' + FONT,
      {sub: {fontSize: 20, fontWeight: 'bold', fontFamily: FONT, verticalAlign: 'bottom', lineHeight: 20, fill: '#000'}}),
  txt(202, 1374, 'Max Smoothing Residual: _-3.151__3.416__0.690  Sigma= 0.852ns', 'bold 25px ' + FONT),
  txt(213, 1533, '\u03c4 = 1040s', 'bold 17px ' + FONT)
];

const chart = echarts.init(document.getElementById('c'), null, {renderer: 'canvas'});
chart.setOption({
  backgroundColor: '#fff',
  animation: false,
  textStyle: {fontFamily: FONT},
  grid: grids, xAxis, yAxis, series, graphic
});
</script></body></html>
